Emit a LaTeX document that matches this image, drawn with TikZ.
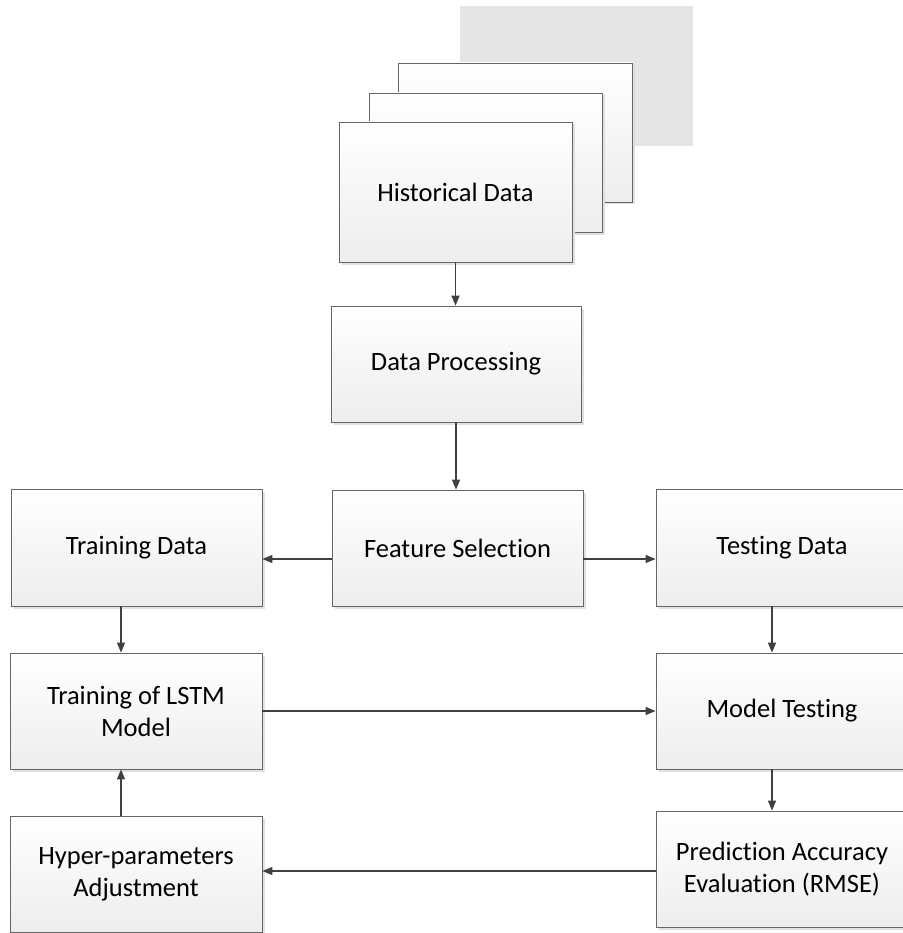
\documentclass[tikz,border=0pt]{standalone}
\usepackage{fontspec}
\setmainfont[Ligatures=NoCommon]{Carlito}
\usetikzlibrary{arrows.meta,shadows}
\begin{document}
\begin{tikzpicture}[x=1pt,y=-1pt,
  box/.style={draw=black!60, line width=0.8pt, top color=white, bottom color=black!7,
    drop shadow={shadow xshift=2.5pt, shadow yshift=-2.5pt, fill=black!12, opacity=1},
    font=\fontsize{26.5}{32}\selectfont, align=center, inner sep=0pt, text=black},
  arr/.style={draw=black!75, line width=1.3pt, -{Triangle[length=10pt,width=8pt]}}]
\useasboundingbox (0,0) rectangle (902,933);
% stacked documents
\fill[black!10] (460,6) rectangle (693,146);
\node[box, minimum width=234pt, minimum height=139pt] (s3) at (515,132.5) {};
\node[box, minimum width=233pt, minimum height=139pt] (s2) at (485.5,162.5) {};
\node[box, minimum width=233pt, minimum height=140pt] (hist) at (455.5,192) {Historical Data};
% main boxes
\node[box, minimum width=250pt, minimum height=116pt] (proc) at (456,364) {Data Processing};
\node[box, minimum width=251pt, minimum height=116pt] (fs) at (457.5,548) {Feature Selection};
\node[box, minimum width=251pt, minimum height=117pt] (train) at (136.5,547.5) {Training Data};
\node[box, minimum width=252pt, minimum height=117pt] (test) at (782,547.5) {Testing Data};
\node[box, minimum width=252pt, minimum height=116pt] (lstm) at (136,711) {Training of LSTM\\Model};
\node[box, minimum width=252pt, minimum height=116pt] (mtest) at (782,711) {Model Testing};
\node[box, minimum width=252pt, minimum height=116pt] (hyper) at (136,874) {Hyper-parameters\\Adjustment};
\node[box, minimum width=252pt, minimum height=116pt] (pred) at (782,869) {Prediction Accuracy\\Evaluation (RMSE)};
% helper coordinates
\coordinate (yfs) at (0,559);
\coordinate (yb) at (0,871);
\coordinate (xl) at (121,0);
\coordinate (xr) at (772,0);
% connectors
\draw[arr] (hist.south) -- (hist.south |- proc.north);
\draw[arr] (proc.south) -- (proc.south |- fs.north);
\draw[arr] (fs.west |- yfs) -- (train.east |- yfs);
\draw[arr] (fs.east |- yfs) -- (test.west |- yfs);
\draw[arr] (train.south -| xl) -- (lstm.north -| xl);
\draw[arr] (hyper.north -| xl) -- (lstm.south -| xl);
\draw[arr] (test.south -| xr) -- (mtest.north -| xr);
\draw[arr] (mtest.south -| xr) -- (pred.north -| xr);
\draw[arr] (lstm) -- (mtest);
\draw[arr] (pred.west |- yb) -- (hyper.east |- yb);
\end{tikzpicture}
\end{document}
